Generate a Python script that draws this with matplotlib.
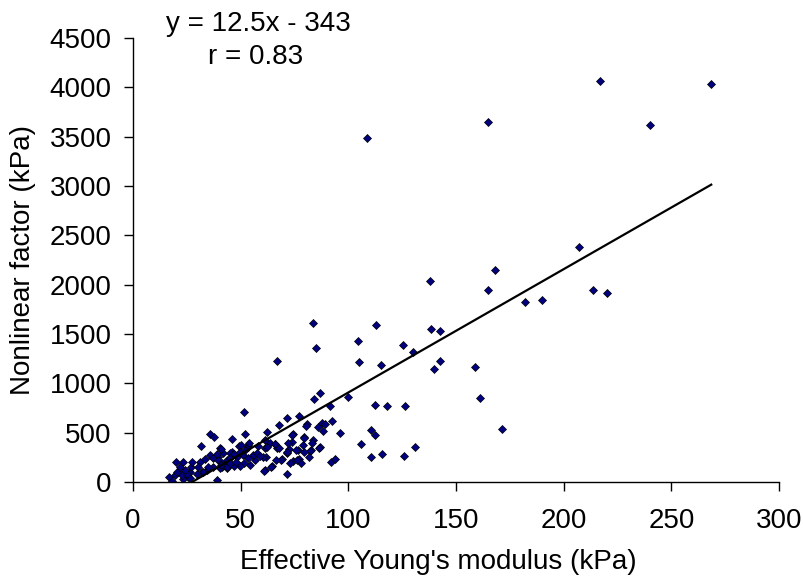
import matplotlib.pyplot as plt

plt.rcParams['font.family'] = ['Liberation Sans', 'DejaVu Sans']

# effective Young's modulus (kPa) and nonlinear factor (kPa)
youngs = [
    108.5, 165, 217, 268.5, 240,
    207, 168, 138, 165, 213.5, 220, 182, 190,
    83.5, 113, 138.5, 142.5, 104.5, 85, 125.5, 130,
    67, 105, 115, 142.5, 140, 159, 161, 171.5,
    84, 87, 91.3, 99.7, 112.5, 118, 126.5,
    110.5, 112.5, 106, 110.5, 115.5, 126, 131,
    92.6, 96, 92, 94,
    71.5, 77, 67.8, 62.1, 81, 85.8, 87.7, 89.3, 88.3,
    74.3, 79.6, 83.5, 86.7, 82.7, 73.7, 66.8, 65.9, 72.3, 76.4,
    69, 74.2, 77.2, 78, 61.5, 64.6, 71.5, 58,
    51.6, 46.2, 52.2, 35.8, 37.7,
    20, 23.4, 16.5, 18, 38.9,
    21.9, 26.5, 23.4, 25.7, 19.5, 23.1, 26.5, 22.6, 25.2, 20.3, 24.2, 21.9, 27, 27.3,
    35.8, 40.5, 31.2, 39.7, 42, 43.6, 34.3, 37.3, 30.4, 31.9, 41.3, 43.6,
    80.3, 73.8, 79.4, 71.9, 63.6, 66, 49, 53.6, 45.9, 61.4, 61.7, 68.5,
    71.6, 75.7, 82.3, 76.1, 73, 61, 64.2, 81.5, 83.1, 78.9,
    86.5, 79.2, 71.5, 67.6, 66.4, 62.2, 60.6,
    50.1, 53.2, 54, 45.1, 40.8, 37.3, 39.7, 41.2, 43.5, 45.1, 48.2, 51.3,
    53.6, 56.7, 55.6, 57.4, 58.9, 51.6, 49.8, 46.7, 43.5, 40.5, 35, 32.7,
    29.6, 40.8, 45.1, 47.9, 54.4, 39.2, 47, 49.8, 52.1, 61.4, 31.4, 33.5,
]
nonlinear = [
    3490, 3645, 4060, 4035, 3615,
    2380, 2150, 2035, 1948, 1948, 1918, 1820, 1847,
    1608, 1591, 1550, 1530, 1432, 1358, 1388, 1314,
    1229, 1216, 1185, 1229, 1142, 1168, 854, 537,
    841, 899, 770, 865, 783, 770, 770,
    527, 479, 382, 250, 284, 267, 351,
    620, 496, 206, 233,
    650, 666, 580, 505, 584, 557, 598, 584, 520,
    483, 456, 422, 351, 321, 402, 341, 385, 334, 321,
    233, 216, 233, 193, 122, 158, 85, 368,
    712, 440, 490, 488, 459,
    200, 206, 54, 12, 25,
    122, 105, 71, 54, 71, 27, 37, 71, 81, 105, 122, 149, 149, 206,
    274, 341, 206, 256, 290, 206, 122, 155, 155, 105, 155, 139,
    572, 476, 443, 398, 392, 380, 365, 372, 307, 341, 256, 223,
    297, 324, 317, 223, 196, 115, 149, 250, 398, 372,
    341, 307, 301, 341, 223, 358, 256,
    375, 358, 392, 297, 334, 240, 223, 189, 223, 240, 256, 274,
    240, 223, 274, 290, 263, 189, 162, 162, 149, 139, 149, 105,
    81, 172, 189, 206, 172, 284, 284, 307, 324, 426, 365, 230,
]

slope = 12.5
intercept = -343
r_value = 0.83

fig = plt.figure(figsize=(8.04, 5.84), dpi=100)
ax = fig.add_axes([0.1654, 0.1747, 0.8036, 0.7603])

ax.plot(youngs, nonlinear, linestyle='none', marker='D', markersize=3.9,
        markerfacecolor='#000080', markeredgecolor='black', markeredgewidth=0.5)

x_fit = [min(youngs), max(youngs)]
y_fit = [slope * v + intercept for v in x_fit]
ax.plot(x_fit, y_fit, color='black', linewidth=1.6)

ax.set_xlim(0, 300)
ax.set_ylim(0, 4500)
ax.set_xticks(range(0, 301, 50))
ax.set_yticks(range(0, 4501, 500))
ax.tick_params(direction='out', length=6.5, width=1, labelsize=20)
ax.tick_params(axis='x', pad=12)
ax.tick_params(axis='y', pad=9)

for side in ['top', 'right']:
    ax.spines[side].set_visible(False)
for side in ['left', 'bottom']:
    ax.spines[side].set_linewidth(1)

ax.set_xlabel("Effective Young's modulus (kPa)", fontsize=20)
ax.set_ylabel('Nonlinear factor (kPa)', fontsize=20)
ax.xaxis.set_label_coords(0.472, -0.152)
ax.yaxis.set_label_coords(-0.150, 0.5)

fig.text(258 / 804, 1 - 24 / 584, f'y = {slope}x - {abs(intercept)}',
         ha='center', va='center', fontsize=20)
fig.text(256 / 804, 1 - 57 / 584, f'r = {r_value}',
         ha='center', va='center', fontsize=20)

fig.savefig('out.png', dpi=100)
